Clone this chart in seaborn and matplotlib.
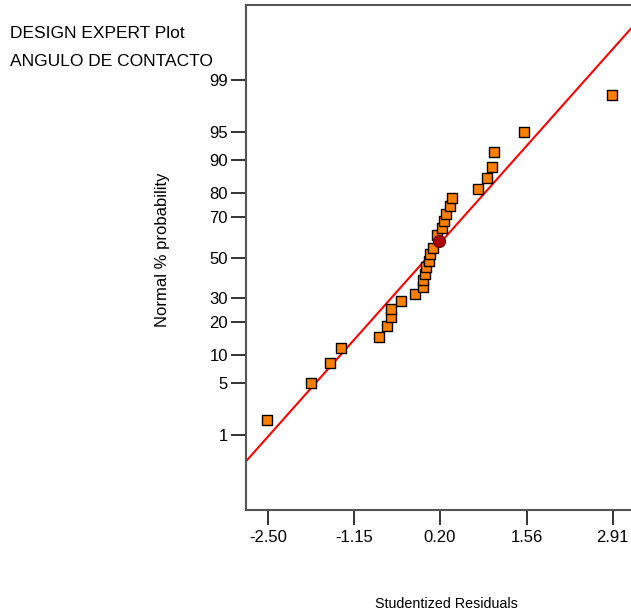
from statistics import NormalDist
import seaborn as sns
import matplotlib.pyplot as plt
import numpy as np
import pandas as pd

# Residuos studentizados ordenados
residuals = [-2.51, -1.82, -1.53, -1.35, -0.75, -0.64, -0.57, -0.57, -0.41, -0.20,
             -0.07, -0.07, -0.03, -0.015, 0.02, 0.05, 0.085, 0.19, 0.15, 0.235,
             0.27, 0.30, 0.355, 0.385, 0.80, 0.94, 1.02, 1.05, 1.51, 2.90]
highlight_idx = 17  # punto marcado en rojo

# recta de referencia
line_center = 0.0
line_sd = 1.065

prob_ticks = [1, 5, 10, 20, 30, 50, 70, 80, 90, 95, 99]
x_ticks = [-2.50, -1.15, 0.20, 1.56, 2.91]
x_ticklabels = ["-2.50", "-1.15", "0.20", "1.56", "2.91"]

nd = NormalDist()
n = len(residuals)
df = pd.DataFrame({
    "res": residuals,
    "z": [nd.inv_cdf((i + 0.5) / n) for i in range(n)],
})
df["grupo"] = "normal"
df.loc[highlight_idx, "grupo"] = "marcado"

sns.set_style("white")
plt.rcParams["font.family"] = ["Liberation Sans", "DejaVu Sans"]
plt.rcParams["text.color"] = "black"
plt.rcParams["axes.labelcolor"] = "black"

fig = plt.figure(figsize=(6.31, 6.12), dpi=100)
ax = fig.add_axes([246 / 631, 1 - 510 / 612, 1 - 246 / 631, 505 / 612])

xlim = (-2.845, 3.197)
ylim = (-3.31, 3.31)

# recta roja
lx = np.array(xlim)
line_df = pd.DataFrame({"x": lx, "z": (lx - line_center) / line_sd})
sns.lineplot(data=line_df, x="x", y="z", color="red", linewidth=1.5, ax=ax)

pts = df[df.grupo == "normal"]
sns.scatterplot(data=pts, x="res", y="z", marker="s", s=55, color="#ff8000",
                edgecolor="black", linewidth=1.0, ax=ax, zorder=3)
hi = df[df.grupo == "marcado"]
sns.scatterplot(data=hi, x="res", y="z", marker="o", s=75, color="#b00000",
                edgecolor="#600000", linewidth=0.8, ax=ax, zorder=4)

ax.set_xlim(*xlim)
ax.set_ylim(*ylim)
ax.set_xticks(x_ticks)
ax.set_xticklabels(x_ticklabels)
ax.set_yticks([nd.inv_cdf(p / 100) for p in prob_ticks])
ax.set_yticklabels([str(p) for p in prob_ticks])
ax.tick_params(axis="both", which="major", bottom=True, left=True, top=False, right=False,
               direction="out", length=11, width=1.4, color="#333333",
               labelsize=12, labelcolor="black")
ax.tick_params(axis="x", pad=3.5)
ax.tick_params(axis="y", pad=2)

for s in ["left", "top", "bottom"]:
    ax.spines[s].set_color("#555555")
    ax.spines[s].set_linewidth(1.5)
ax.spines["right"].set_visible(False)

ax.set_xlabel("Studentized Residuals", fontsize=10.3)
ax.set_ylabel("Normal % probability", fontsize=12)
ax.xaxis.set_label_coords((446 - 246) / 385, -(597 - 510) / 505)
ax.yaxis.set_label_coords(-(246 - 170) / 385, (510 - 250) / 505)

fig.text(10 / 631, 1 - 33 / 612, "DESIGN EXPERT Plot", fontsize=12.5, va="center", ha="left")
fig.text(10 / 631, 1 - 62 / 612, "ANGULO DE CONTACTO", fontsize=12.5, va="center", ha="left")

fig.savefig("out.png", dpi=100)
